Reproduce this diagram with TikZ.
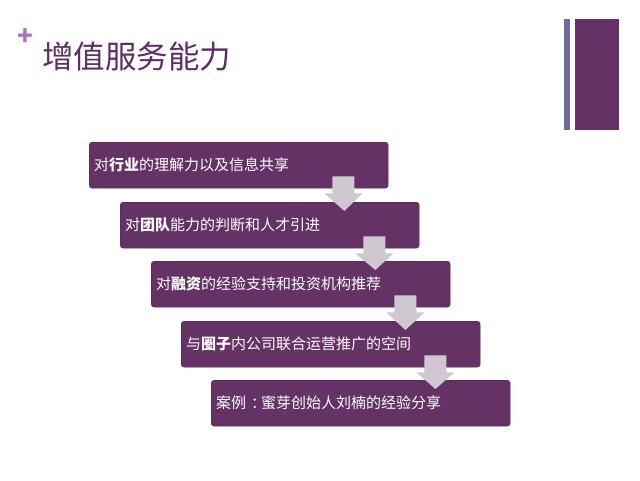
\documentclass[tikz,border=0pt]{standalone}
\usepackage{fontspec}
\setmainfont{Noto Sans CJK SC}
\usetikzlibrary{calc}
\definecolor{boxpurple}{HTML}{643264}
\definecolor{titlepurple}{HTML}{5E2D68}
\definecolor{plusorchid}{HTML}{B070C0}
\definecolor{barblue}{HTML}{6B6AA2}
\definecolor{arrowgray}{HTML}{CFC8D1}
\tikzset{
  stepbox/.style={fill=boxpurple, draw=boxpurple!80!black, line width=0.4pt, rounded corners=3pt,
    anchor=north west, minimum width=299pt, minimum height=46pt, text width=289pt,
    inner sep=5pt, align=left, text=white, font=\fontsize{15pt}{18pt}\selectfont},
  downarrow/.style={fill=arrowgray, draw=none}
}
\newcommand{\downarr}[2]{%
  \fill[downarrow] ($(#1.south east)+(-56,-12)$) -- ($(#1.south east)+(-34,-12)$)
    -- ($(#1.south east)+(-34,5)$) -- ($(#1.south east)+(-26,5)$)
    -- ($(#2.north east)+(-75,9)$)
    -- ($(#1.south east)+(-64,5)$) -- ($(#1.south east)+(-56,5)$) -- cycle;}
\begin{document}
\begin{tikzpicture}[x=1pt,y=-1pt]
\useasboundingbox (0,0) rectangle (640,480);
\fill[white] (0,0) rectangle (640,480);
% decorations
\node[text=plusorchid, font=\fontsize{26pt}{26pt}\selectfont\bfseries, inner sep=0pt] (plus) at (25.5,37) {+};
\node[text=titlepurple, font=\fontsize{31.5pt}{33pt}\selectfont, anchor=west, inner sep=0pt] (title) at (42,57) {增值服务能力};
\fill[barblue] (564,19) rectangle (570,130);
\fill[boxpurple] (575,19) rectangle (619,130);
% boxes
\node[stepbox] (b1) at (89,142) {对\textbf{行业}的理解力以及信息共享};
\node[stepbox] (b2) at (120,202) {对\textbf{团队}能力的判断和人才引进};
\node[stepbox] (b3) at (151,261) {对\textbf{融资}的经验支持和投资机构推荐};
\node[stepbox] (b4) at (181,321) {与\textbf{圈子}内公司联合运营推广的空间};
\node[stepbox] (b5) at (211,380) {案例\makebox[15pt][l]{\hspace{5pt}\makebox[0pt][l]{：}}蜜芽创始人刘楠的经验分享};
% arrows
\downarr{b1}{b2}
\downarr{b2}{b3}
\downarr{b3}{b4}
\downarr{b4}{b5}
\end{tikzpicture}
\end{document}
